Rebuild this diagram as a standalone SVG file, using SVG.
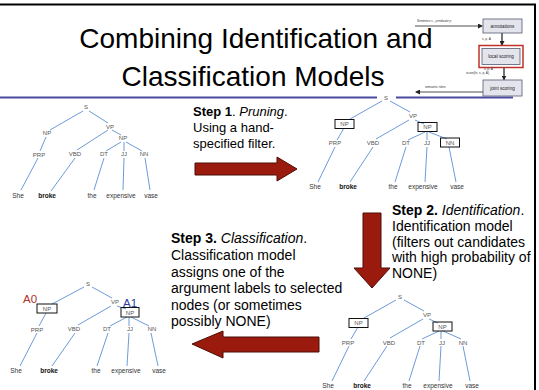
<svg xmlns="http://www.w3.org/2000/svg" width="539" height="390" viewBox="0 0 539 390">
<defs>
<style>
text{font-family:"Liberation Sans",Arial,Helvetica,sans-serif}
.title{font-size:28px;fill:#000;text-anchor:middle}
.step{font-size:14px;fill:#000}
.lab{font-size:6px;fill:#555;text-anchor:middle}
.word{font-size:6.5px;fill:#333;text-anchor:middle}
.bw{font-weight:bold;fill:#111}
.e{stroke:#5b8fd6;stroke-width:0.9;fill:none}
.box{fill:none;stroke:#111;stroke-width:1}
.arr{fill:#9a1b0d;stroke:#4d0d06;stroke-width:1}
.mbox{fill:#e4e4ec;stroke:#555a70;stroke-width:0.8}
.mt{font-size:4.6px;fill:#222;text-anchor:middle}
.ms{font-size:3.2px;fill:#333}
.ml{stroke:#222;stroke-width:0.8;fill:none}
.mv{stroke:#555;stroke-width:1.6;fill:none}
</style>
<marker id="mh" markerWidth="5" markerHeight="5" refX="4" refY="2.5" orient="auto" markerUnits="userSpaceOnUse">
<path d="M0,0 L5,2.5 L0,5 Z" fill="#222"/>
</marker>
</defs>
<rect width="539" height="390" fill="#fff"/>
<path d="M0,4.5 H535 V390" fill="none" stroke="#000" stroke-width="2"/>
<g id="title">
<text class="title" x="256" y="48">Combining Identification and</text>
<text class="title" x="253" y="86">Classification Models</text>
</g>
<g id="rule">
<line x1="0" y1="97.5" x2="377" y2="97.5" stroke="#4a4aa0" stroke-width="2"/>
<line x1="396" y1="97.5" x2="513" y2="97.5" stroke="#4a4aa0" stroke-width="2"/>
</g>
<g id="mini">
<text class="ms" x="417" y="22" font-style="italic">Sentence s , predicate p</text>
<line class="ml" x1="415" y1="26" x2="482" y2="26" marker-end="url(#mh)"/>
<g id="annotations"><rect class="mbox" x="483" y="19" width="39" height="14"/><text class="mt" x="502.5" y="27.8">annotations</text></g>
<line class="mv" x1="502" y1="33" x2="502" y2="45" marker-end="url(#mh)"/>
<text class="ms" x="482" y="40">s, p, A</text>
<g id="local-scoring"><rect x="479" y="45.5" width="44" height="22" fill="none" stroke="#c0302a" stroke-width="1.5"/><rect class="mbox" x="482" y="48.5" width="38" height="16"/><text class="mt" x="501" y="58.2">local scoring</text></g>
<line class="mv" x1="504" y1="67.5" x2="504" y2="79.5" marker-end="url(#mh)"/>
<text class="ms" x="484" y="70">s, p, A</text>
<text class="ms" x="466" y="74">score(ln, s, p, A)</text>
<g id="joint-scoring"><rect class="mbox" x="483" y="80" width="39" height="16"/><text class="mt" x="502.5" y="89.5">joint scoring</text></g>
<text class="ms" x="425" y="88">semantic roles</text>
<line class="ml" x1="483" y1="92" x2="416" y2="92" marker-end="url(#mh)"/>
</g>
<g id="step1">
<text class="step" x="193" y="116" style="font-size:13px"><tspan font-weight="bold">Step 1</tspan>. <tspan font-style="italic">Pruning</tspan>.</text>
<text class="step" x="193" y="132" style="font-size:13px">Using a hand-</text>
<text class="step" x="193" y="148" style="font-size:13px">specified filter.</text>
</g>
<g id="step2">
<text class="step" x="392" y="215"><tspan font-weight="bold">Step 2.</tspan> <tspan font-style="italic">Identification</tspan>.</text>
<text class="step" x="392" y="231">Identification model</text>
<text class="step" x="392" y="247">(filters out candidates</text>
<text class="step" x="392" y="262">with high probability of</text>
<text class="step" x="392" y="278">NONE)</text>
</g>
<g id="step3">
<text class="step" x="171" y="243"><tspan font-weight="bold">Step 3.</tspan> <tspan font-style="italic">Classification</tspan>.</text>
<text class="step" x="171" y="260">Classification model</text>
<text class="step" x="171" y="277">assigns one of the</text>
<text class="step" x="171" y="293">argument labels to selected</text>
<text class="step" x="171" y="310">nodes (or sometimes</text>
<text class="step" x="171" y="326">possibly NONE)</text>
</g>
<g id="arrow-right"><polygon class="arr" points="195,163 277,163 277,157 297,169 277,181 277,175 195,175"/></g>
<g id="arrow-down"><polygon class="arr" points="363,213 381,213 381,268 390,268 372,288 354,268 363,268"/></g>
<g id="arrow-left"><polygon class="arr" points="319,337 223,337 223,331 192,344 223,358 223,352 319,352"/></g>
<g id="connectors">
<g transform="translate(86,107)">
<path class="e" d="M-3,4 L-36,23 M3,4 L22,16 M22,23 L-9,43 M26,23 L35,28 M-40,30 L-46,44 M35,35 L20,44 M38,35 L38,44 M40,35 L56,44 M-48,51 L-65,83 M-11,51 L-35,84 M18,51 L8,83 M38,51 L37,83 M59,51 L64,83"/>
</g>
<g transform="translate(386,98)">
<path class="e" d="M-4,3 L-36,21 M4,3 L24,14 M23,22 L-10,41 M29,22 L38,26 M-42,30 L-49,42 M39,34 L22,42 M41,34 L41,42 M43,34 L61,41 M-51,49 L-68,84 M-13,49 L-36,84 M20,49 L9,84 M41,49 L39,84 M63,49 L70,84"/>
</g>
<g transform="translate(400,297)">
<path class="e" d="M-4,3 L-36,21 M4,3 L24,14 M23,22 L-10,41 M29,22 L38,26 M-42,30 L-49,42 M39,34 L22,42 M41,34 L41,42 M43,34 L61,42 M-51,49 L-68,84 M-13,49 L-36,84 M20,49 L9,84 M41,49 L39,84 M63,49 L70,84"/>
</g>
<g transform="translate(88,284)">
<path class="e" d="M-4,3 L-36,20 M4,3 L24,14 M23,22 L-10,41 M29,22 L38,25 M-42,29 L-49,42 M39,33 L22,42 M41,33 L41,42 M43,33 L61,42 M-51,49 L-68,82 M-13,49 L-36,82 M20,49 L9,82 M41,49 L39,82 M63,49 L70,82"/>
</g>
</g>
<g id="tree1" transform="translate(86,107)">
<text class="lab" x="0" y="2">S</text>
<text class="lab" x="24" y="22">VP</text>
<text class="lab" x="-39" y="28">NP</text>
<text class="lab" x="37" y="33">NP</text>
<text class="lab" x="-47" y="50">PRP</text>
<text class="lab" x="-11" y="49">VBD</text>
<text class="lab" x="18" y="49">DT</text>
<text class="lab" x="38" y="49">JJ</text>
<text class="lab" x="58" y="49">NN</text>
<text class="word" x="-68" y="91">She</text>
<text class="word bw" x="-39" y="91">broke</text>
<text class="word" x="6" y="91">the</text>
<text class="word" x="35" y="91">expensive</text>
<text class="word" x="65" y="91">vase</text>
</g>
<g id="tree2" transform="translate(386,98)">
<text class="lab" x="0" y="2">S</text>
<text class="lab" x="27" y="20">VP</text>
<rect class="box" x="-51" y="21.5" width="19" height="9"/>
<text class="lab" x="-41.5" y="28">NP</text>
<rect class="box" x="32" y="24.5" width="19" height="9"/>
<text class="lab" x="41.5" y="31">NP</text>
<text class="lab" x="-51" y="47">PRP</text>
<text class="lab" x="-13" y="47">VBD</text>
<text class="lab" x="20" y="47">DT</text>
<text class="lab" x="41" y="47">JJ</text>
<rect class="box" x="54.5" y="40" width="19" height="9"/>
<text class="lab" x="64" y="47">NN</text>
<text class="word" x="-71" y="91">She</text>
<text class="word bw" x="-38" y="91">broke</text>
<text class="word" x="7" y="91">the</text>
<text class="word" x="37" y="91">expensive</text>
<text class="word" x="71" y="91">vase</text>
</g>
<g id="tree3" transform="translate(400,297)">
<text class="lab" x="0" y="2">S</text>
<text class="lab" x="27" y="20">VP</text>
<rect class="box" x="-51" y="21.5" width="19" height="9"/>
<text class="lab" x="-41.5" y="28">NP</text>
<rect class="box" x="33" y="25" width="19" height="9"/>
<text class="lab" x="42.5" y="31.5">NP</text>
<text class="lab" x="-52" y="48">PRP</text>
<text class="lab" x="-11" y="48">VBD</text>
<text class="lab" x="21" y="48">DT</text>
<text class="lab" x="42" y="48">JJ</text>
<text class="lab" x="63" y="48">NN</text>
<text class="word" x="-72" y="91">She</text>
<text class="word bw" x="-38" y="91">broke</text>
<text class="word" x="7" y="91">the</text>
<text class="word" x="38" y="91">expensive</text>
<text class="word" x="72" y="91">vase</text>
</g>
<g id="tree4" transform="translate(88,284)">
<text class="lab" x="0" y="2">S</text>
<text class="lab" x="27" y="20">VP</text>
<rect class="box" x="-51" y="20" width="20" height="9"/>
<text class="lab" x="-41" y="26.5">NP</text>
<rect class="box" x="33" y="23.5" width="18" height="9.5"/>
<text class="lab" x="42" y="30.5">NP</text>
<text class="lab" x="-51" y="48">PRP</text>
<text class="lab" x="-14" y="47">VBD</text>
<text class="lab" x="19" y="47">DT</text>
<text class="lab" x="42" y="47">JJ</text>
<text class="lab" x="64" y="47">NN</text>
<text class="word" x="-72" y="89">She</text>
<text class="word bw" x="-39" y="89">broke</text>
<text class="word" x="8" y="89">the</text>
<text class="word" x="38" y="89">expensive</text>
<text class="word" x="71" y="89">vase</text>
<text x="-65" y="19" style="font-size:11.5px;fill:#b0302a">A0</text>
<text x="35" y="23" style="font-size:11.5px;fill:#2f3a9e">A1</text>
</g>
</svg>
